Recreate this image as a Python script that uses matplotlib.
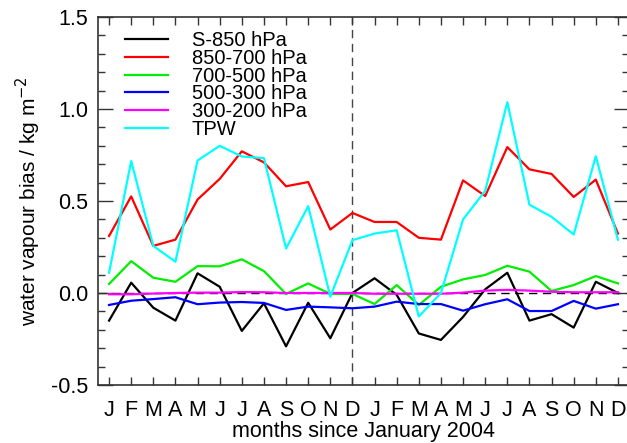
import numpy as np
import matplotlib
matplotlib.use('Agg')
import matplotlib.pyplot as plt
from matplotlib.ticker import MultipleLocator

plt.rcParams['font.family'] = ['Liberation Sans', 'DejaVu Sans']

# months since January 2004
months = np.arange(1, 25)
month_labels = list('JFMAMJJASOND') * 2

# layer biases (kg m-2)
s850 = [-0.15, 0.056, -0.08, -0.15, 0.107, 0.034, -0.206, -0.056, -0.29, -0.053, -0.246, 0.0,
        0.08, -0.01, -0.22, -0.255, -0.13, 0.02, 0.11, -0.15, -0.115, -0.188, 0.061, 0.0]
l850_700 = [0.31, 0.525, 0.256, 0.29, 0.508, 0.62, 0.77, 0.71, 0.58, 0.603, 0.345, 0.435,
            0.386, 0.386, 0.30, 0.29, 0.612, 0.527, 0.793, 0.672, 0.647, 0.522, 0.616, 0.323]
l700_500 = [0.049, 0.173, 0.083, 0.061, 0.146, 0.145, 0.183, 0.119, -0.005, 0.052, -0.005, -0.005,
            -0.06, 0.043, -0.065, 0.034, 0.074, 0.098, 0.148, 0.116, 0.011, 0.043, 0.092, 0.052]
l500_300 = [-0.065, -0.042, -0.033, -0.023, -0.061, -0.052, -0.049, -0.054, -0.092, -0.074, -0.078, -0.083,
            -0.074, -0.047, -0.06, -0.06, -0.096, -0.061, -0.034, -0.098, -0.098, -0.043, -0.085, -0.061]
l300_200 = [-0.007, -0.007, -0.003, 0.0, 0.002, 0.002, 0.005, 0.004, 0.0, 0.0, 0.0, 0.0,
            -0.004, -0.004, -0.004, -0.004, 0.002, 0.013, 0.017, 0.013, 0.007, 0.004, 0.004, 0.004]
tpw = [0.11, 0.717, 0.256, 0.17, 0.72, 0.80, 0.742, 0.733, 0.242, 0.472, -0.02, 0.287,
       0.323, 0.341, -0.128, 0.0, 0.40, 0.555, 1.037, 0.48, 0.414, 0.318, 0.743, 0.29]

series = [(s850, 'black', 'S-850 hPa'),
          (l850_700, 'red', '850-700 hPa'),
          (l700_500, '#00ee00', '700-500 hPa'),
          (l500_300, 'blue', '500-300 hPa'),
          (l300_200, 'magenta', '300-200 hPa'),
          (tpw, 'cyan', 'TPW')]

fig = plt.figure(figsize=(6.27, 4.43), dpi=100)
ax = fig.add_axes([98/627, 1 - 385/443, 531/627, 368/443])

ax.axhline(0, color='black', lw=1.0, ls=(0, (6, 4)), zorder=1)
ax.axvline(12, color='#444444', lw=1.0, ls=(0, (6, 4)), zorder=1)

for vals, col, lab in series:
    ax.plot(months, vals, color=col, lw=1.6, label=lab, zorder=2)

ax.set_xlim(0.5, 24.5)
ax.set_ylim(-0.5, 1.5)
ax.set_xticks(months)
ax.set_xticklabels(month_labels, fontsize=15.5)
ax.yaxis.set_major_locator(MultipleLocator(0.5))
ax.yaxis.set_minor_locator(MultipleLocator(0.1))
ax.set_yticklabels(['%.1f' % v for v in ax.get_yticks()], fontsize=15.5)
ax.tick_params(axis='x', which='major', direction='in', top=True, length=6, width=1, color='#333333', pad=11)
ax.tick_params(axis='y', which='major', direction='in', right=True, length=11, width=1, color='#333333', pad=7)
ax.tick_params(axis='y', which='minor', direction='in', right=True, length=5, width=1, color='#333333')
for sp in ax.spines.values():
    sp.set_color('#333333')
    sp.set_linewidth(1.2)

ax.set_xlabel('months since January 2004', fontsize=15.5, labelpad=0)
ax.set_ylabel('water vapour bias / kg m$^{-2}$', fontsize=15, labelpad=6)

leg = ax.legend(loc='upper left', frameon=False, fontsize=14.5, handlelength=2.1,
                handletextpad=1.2, labelspacing=-0.06, borderaxespad=0.3,
                bbox_to_anchor=(0.025, 1.0))

fig.savefig('out.png', dpi=100)
